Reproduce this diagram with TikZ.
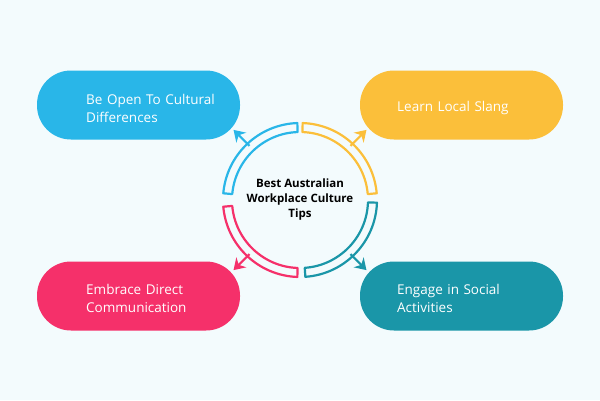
\documentclass[tikz,border=0pt]{standalone}
\usepackage{fontspec}
\setmainfont{Open Sans}
\usetikzlibrary{arrows.meta,calc}
\definecolor{bg}{HTML}{F3FBFD}
\definecolor{cblue}{HTML}{29B6E8}
\definecolor{cyel}{HTML}{FBBF3A}
\definecolor{cteal}{HTML}{1A96A8}
\definecolor{cpink}{HTML}{F5306A}
\tikzset{
  pill/.style={rounded corners=34pt,minimum width=203pt,minimum height=69pt,inner sep=0pt},
  ptext/.style={text width=160pt,align=left,text=white,font=\fontsize{13.5}{18}\selectfont,inner sep=0pt,anchor=west},
  band/.style={line width=2.2pt,line join=round},
  tip/.style={line width=2.2pt,-{Stealth[length=11pt,width=14pt]}}
}
\begin{document}
\begin{tikzpicture}[x=1pt,y=-1pt]
\useasboundingbox[fill=bg] (0,0) rectangle (600,400);
\node[pill,fill=cblue] (b1) at (138.5,105) {};
\node[pill,fill=cyel] (b2) at (461.5,105) {};
\node[pill,fill=cpink] (b3) at (138.5,296) {};
\node[pill,fill=cteal] (b4) at (461.5,296) {};
\node[ptext] (t1) at (86,108) {Be Open To Cultural\\Differences};
\node[ptext] (t2) at (397,108) {Learn Local Slang};
\node[ptext] (t3) at (86,298) {Embrace Direct\\Communication};
\node[ptext] (t4) at (397,298) {Engage in Social\\Activities};
\coordinate (c) at (300,200);
\foreach \s/\e/\col in {88/5/cyel, -2/-86/cteal, -92/-175/cpink, 175/92/cblue}{
  \draw[band,\col] ($(c)+(-\s:77)$) arc[start angle=-\s,end angle=-\e,radius=77]
     -- ($(c)+(-\e:68)$) arc[start angle=-\e,end angle=-\s,radius=68] -- cycle;
}
\node[font=\bfseries\fontsize{11.5}{15}\selectfont,align=center] (t) at (c) {Best Australian\\Workplace Culture\\Tips};
\coordinate (s1) at ($(c)+(-47:74)$); \coordinate (s2) at ($(c)+(47:74)$);
\coordinate (s3) at ($(c)+(133:74)$); \coordinate (s4) at ($(c)+(-133:74)$);
\draw[tip,cyel] (s1) -- ++(16,-16);
\draw[tip,cteal] (s2) -- ++(16,16);
\draw[tip,cpink] (s3) -- ++(-16,16);
\draw[tip,cblue] (s4) -- ++(-16,-16);
\end{tikzpicture}
\end{document}
